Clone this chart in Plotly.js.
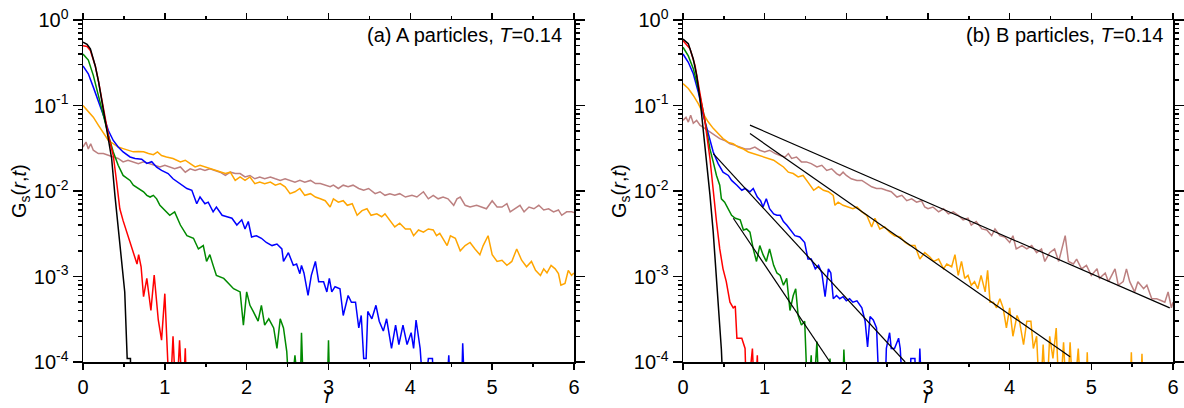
<!DOCTYPE html>
<html><head><meta charset="utf-8">
<script src="https://cdn.plot.ly/plotly-3.0.1.min.js"></script>
<style>html,body{margin:0;padding:0;background:#fff}#chart{width:1184px;height:408px}</style>
</head><body><div id="chart"></div>
<script>
// ---------- Panel (a): A particles ----------
const aBlack = [[0,0.55],[0.05,0.52],[0.09,0.46],[0.15,0.29],[0.19,0.19],[0.23,0.11],[0.27,0.064],[0.31,0.041],[0.35,0.024],[0.39,0.0089],[0.43,0.0036],[0.47,0.0015],[0.51,0.00066],[0.54,0.00011],[0.58,0.00011],[0.585,0.00003]];
const aRed = [[0,0.50],[0.05,0.49],[0.09,0.44],[0.15,0.29],[0.19,0.19],[0.23,0.115],[0.27,0.068],[0.31,0.045],[0.35,0.031],[0.37,0.026],[0.41,0.013],[0.45,0.0062],[0.49,0.0045],[0.53,0.0034],[0.57,0.0026],[0.60,0.0021],[0.64,0.0016],[0.66,0.0014],[0.68,0.0018],[0.71,0.0013],[0.74,0.00058],[0.78,0.00095],[0.83,0.0004],[0.87,0.00104],[0.92,0.00031],[0.96,0.00018],[1.00,0.00063],[1.03,0.0002],[1.06,0.00003],[1.10,0.0002],[1.14,0.00003],[1.18,0.00018],[1.22,0.00003],[1.25,0.000145],[1.27,0.00003]];
const aGreen = [[0,0.40],[0.065,0.34],[0.126,0.225],[0.187,0.131],[0.249,0.077],[0.31,0.045],[0.37,0.0286],[0.43,0.020],[0.49,0.0152],[0.575,0.0133],[0.615,0.0117],[0.676,0.0107],[0.74,0.0098],[0.78,0.0089],[0.82,0.0085],[0.86,0.0089],[0.90,0.0081],[0.94,0.0068],[1.02,0.0057],[1.06,0.0052],[1.12,0.0057],[1.19,0.0040],[1.27,0.0030],[1.35,0.0028],[1.41,0.0021],[1.47,0.0023],[1.51,0.0015],[1.55,0.0018],[1.59,0.00135],[1.63,0.00103],[1.72,0.00095],[1.76,0.00087],[1.84,0.00072],[1.92,0.00066],[1.96,0.00027],[2.00,0.00066],[2.04,0.00046],[2.08,0.00039],[2.14,0.0003],[2.18,0.00046],[2.22,0.00027],[2.27,0.00032],[2.33,0.00025],[2.37,0.000144],[2.41,0.00032],[2.45,0.00025],[2.49,0.000132],[2.53,0.00003],[2.59,0.00012],[2.65,0.00003],[2.67,0.00022],[2.70,0.00003],[2.98,0.00003],[3.00,0.00018],[3.02,0.00003]];
const aBlue = [[0,0.29],[0.065,0.235],[0.126,0.164],[0.187,0.115],[0.249,0.077],[0.31,0.051],[0.37,0.039],[0.43,0.0327],[0.49,0.0286],[0.575,0.025],[0.636,0.024],[0.717,0.0235],[0.78,0.021],[0.84,0.022],[0.90,0.019],[0.96,0.0174],[1.04,0.016],[1.10,0.0139],[1.19,0.0122],[1.27,0.0107],[1.33,0.0102],[1.39,0.0071],[1.43,0.0085],[1.49,0.0071],[1.53,0.0074],[1.59,0.0057],[1.63,0.0065],[1.70,0.0052],[1.76,0.0050],[1.82,0.0048],[1.88,0.0040],[1.94,0.0046],[1.98,0.0036],[2.02,0.0044],[2.06,0.0029],[2.12,0.0030],[2.18,0.0028],[2.24,0.0025],[2.31,0.0023],[2.37,0.0024],[2.43,0.0021],[2.45,0.0015],[2.51,0.0019],[2.57,0.00135],[2.61,0.0014],[2.65,0.00108],[2.67,0.00135],[2.70,0.0011],[2.75,0.0006],[2.79,0.00103],[2.84,0.0015],[2.88,0.00087],[2.94,0.00087],[2.98,0.00066],[3.01,0.00095],[3.04,0.00066],[3.08,0.00076],[3.14,0.00072],[3.18,0.00035],[3.24,0.0006],[3.28,0.0005],[3.33,0.0005],[3.37,0.00025],[3.40,0.00035],[3.43,0.00011],[3.46,0.00011],[3.48,0.00039],[3.53,0.00032],[3.58,0.00046],[3.62,0.0003],[3.67,0.00023],[3.71,0.00032],[3.77,0.000144],[3.82,0.00027],[3.86,0.00016],[3.91,0.00027],[3.96,0.00016],[4.01,0.00022],[4.04,0.000144],[4.07,0.00031],[4.12,0.000144],[4.17,0.00003],[4.22,0.00011],[4.27,0.00011],[4.30,0.00003],[4.43,0.00003],[4.47,0.00012],[4.50,0.00003],[4.62,0.00003],[4.64,0.000166],[4.67,0.00003]];
const aOrange = [[0,0.1],[0.065,0.084],[0.126,0.073],[0.187,0.059],[0.249,0.047],[0.31,0.039],[0.37,0.0357],[0.43,0.0327],[0.49,0.0313],[0.55,0.030],[0.615,0.0287],[0.676,0.029],[0.74,0.0287],[0.80,0.0274],[0.86,0.0266],[0.91,0.0287],[0.96,0.026],[1.02,0.025],[1.10,0.024],[1.19,0.0219],[1.25,0.0229],[1.31,0.0209],[1.37,0.0191],[1.43,0.020],[1.49,0.0191],[1.55,0.0182],[1.61,0.0174],[1.675,0.0166],[1.74,0.016],[1.80,0.0166],[1.86,0.0133],[1.92,0.0146],[1.98,0.0133],[2.04,0.0146],[2.10,0.0122],[2.16,0.0127],[2.22,0.0122],[2.29,0.0127],[2.35,0.0117],[2.41,0.0122],[2.47,0.0112],[2.53,0.0093],[2.59,0.0098],[2.65,0.0107],[2.71,0.0089],[2.78,0.0093],[2.84,0.0085],[2.90,0.0081],[2.96,0.0077],[3.02,0.0065],[3.06,0.0081],[3.12,0.0074],[3.18,0.0077],[3.23,0.0068],[3.29,0.0071],[3.35,0.0052],[3.41,0.0059],[3.47,0.0062],[3.52,0.0052],[3.59,0.0054],[3.65,0.0050],[3.69,0.0054],[3.75,0.0046],[3.81,0.0038],[3.87,0.0042],[3.94,0.0036],[4.00,0.0036],[4.04,0.0030],[4.10,0.0035],[4.16,0.0033],[4.22,0.0036],[4.28,0.0035],[4.32,0.0030],[4.36,0.0032],[4.45,0.0023],[4.49,0.0030],[4.55,0.0028],[4.61,0.0020],[4.67,0.0023],[4.73,0.0025],[4.79,0.0021],[4.85,0.0018],[4.89,0.0023],[4.95,0.0030],[5.00,0.0018],[5.06,0.0015],[5.12,0.00155],[5.18,0.00135],[5.24,0.0015],[5.30,0.0021],[5.36,0.00155],[5.42,0.0013],[5.48,0.0015],[5.53,0.00118],[5.59,0.00103],[5.63,0.00123],[5.67,0.0011],[5.72,0.00135],[5.77,0.00123],[5.81,0.00108],[5.84,0.00079],[5.89,0.00083],[5.93,0.00118],[5.97,0.00103],[6.0,0.0011]];
const aRosy = [[0,0.0327],[0.037,0.0374],[0.065,0.031],[0.094,0.0357],[0.126,0.030],[0.187,0.0274],[0.249,0.0274],[0.31,0.026],[0.37,0.025],[0.43,0.024],[0.49,0.0219],[0.55,0.0229],[0.615,0.0219],[0.676,0.0209],[0.74,0.0219],[0.80,0.0209],[0.86,0.020],[0.94,0.0191],[1.00,0.020],[1.06,0.0191],[1.12,0.0182],[1.19,0.0191],[1.25,0.0166],[1.31,0.0182],[1.37,0.0174],[1.43,0.0182],[1.49,0.0174],[1.55,0.0182],[1.61,0.0174],[1.675,0.0166],[1.74,0.0152],[1.80,0.0166],[1.86,0.016],[1.92,0.016],[1.98,0.0146],[2.04,0.0152],[2.10,0.0139],[2.16,0.0146],[2.22,0.0139],[2.29,0.0146],[2.35,0.0139],[2.41,0.0133],[2.47,0.0139],[2.53,0.0133],[2.59,0.0127],[2.65,0.0133],[2.71,0.0127],[2.78,0.0133],[2.84,0.0122],[2.90,0.0122],[2.96,0.0117],[3.02,0.0112],[3.06,0.0117],[3.12,0.0107],[3.18,0.0117],[3.24,0.0112],[3.30,0.0117],[3.37,0.0107],[3.43,0.0102],[3.49,0.0107],[3.57,0.0093],[3.63,0.0098],[3.69,0.0089],[3.75,0.0093],[3.81,0.0089],[3.87,0.0093],[3.94,0.0085],[4.02,0.0089],[4.08,0.0085],[4.16,0.0098],[4.22,0.0081],[4.28,0.0089],[4.34,0.0081],[4.40,0.0085],[4.46,0.0081],[4.53,0.0068],[4.57,0.0081],[4.61,0.0085],[4.67,0.0068],[4.73,0.0065],[4.81,0.0068],[4.87,0.0065],[4.93,0.0062],[5.00,0.0077],[5.06,0.0065],[5.12,0.0065],[5.18,0.0071],[5.22,0.0057],[5.28,0.0062],[5.34,0.0068],[5.39,0.0057],[5.45,0.0065],[5.51,0.0062],[5.57,0.0068],[5.63,0.006],[5.69,0.0062],[5.75,0.0057],[5.81,0.006],[5.85,0.0052],[5.91,0.0057],[5.97,0.0057],[6.0,0.0056]];

// ---------- Panel (b): B particles ----------
const bBlack = [[0,0.60],[0.065,0.53],[0.126,0.35],[0.167,0.225],[0.208,0.12],[0.249,0.053],[0.29,0.024],[0.33,0.009],[0.37,0.0033],[0.41,0.001],[0.45,0.0003],[0.47,0.00014],[0.50,0.00003]];
const bRed = [[0,0.575],[0.086,0.46],[0.147,0.295],[0.208,0.144],[0.27,0.064],[0.33,0.024],[0.37,0.0098],[0.41,0.0044],[0.45,0.0021],[0.49,0.00123],[0.53,0.00087],[0.575,0.0005],[0.615,0.00043],[0.64,0.00045],[0.66,0.00019],[0.72,0.00019],[0.76,0.000144],[0.78,0.00003],[0.85,0.000144],[0.88,0.00003],[0.91,0.00012],[0.93,0.00003]];
const bGreen = [[0,0.48],[0.065,0.38],[0.126,0.27],[0.187,0.158],[0.249,0.084],[0.29,0.049],[0.33,0.031],[0.37,0.0219],[0.41,0.0152],[0.45,0.0117],[0.47,0.0081],[0.51,0.0074],[0.555,0.0062],[0.595,0.0052],[0.64,0.0048],[0.70,0.0046],[0.74,0.0035],[0.78,0.0036],[0.82,0.0033],[0.86,0.0021],[0.90,0.0015],[0.94,0.0023],[0.98,0.0018],[1.02,0.0015],[1.06,0.0021],[1.11,0.00135],[1.15,0.0011],[1.19,0.00103],[1.23,0.00079],[1.27,0.00095],[1.31,0.0004],[1.35,0.0006],[1.38,0.00072],[1.41,0.00035],[1.45,0.00027],[1.49,0.0003],[1.53,0.00003],[1.57,0.00012],[1.59,0.00003],[1.64,0.000174],[1.67,0.00003],[1.78,0.00003],[1.80,0.00011],[1.83,0.00003],[1.95,0.00003],[1.97,0.00014],[2.00,0.00003]];
const bBlue = [[0,0.40],[0.065,0.32],[0.126,0.235],[0.187,0.144],[0.249,0.077],[0.31,0.045],[0.37,0.0286],[0.43,0.0209],[0.49,0.0166],[0.555,0.0152],[0.595,0.0133],[0.66,0.0117],[0.72,0.0102],[0.76,0.0107],[0.82,0.0098],[0.86,0.0107],[0.91,0.0085],[0.95,0.0077],[0.98,0.0065],[1.02,0.0081],[1.06,0.0062],[1.11,0.0054],[1.15,0.0052],[1.19,0.0052],[1.23,0.0044],[1.27,0.0040],[1.31,0.0036],[1.37,0.0030],[1.43,0.0029],[1.49,0.0025],[1.53,0.0016],[1.57,0.0016],[1.62,0.00123],[1.66,0.00135],[1.70,0.0011],[1.74,0.00058],[1.78,0.00123],[1.81,0.0011],[1.84,0.00055],[1.88,0.0006],[1.92,0.00055],[1.96,0.00058],[2.00,0.00052],[2.04,0.00055],[2.08,0.0005],[2.13,0.00052],[2.19,0.00043],[2.23,0.0003],[2.26,0.00015],[2.29,0.00034],[2.33,0.00031],[2.37,0.00025],[2.41,0.00003],[2.47,0.00003],[2.49,0.000144],[2.53,0.00022],[2.55,0.000144],[2.59,0.000144],[2.64,0.00019],[2.66,0.000144],[2.70,0.00003],[2.77,0.00003],[2.79,0.00011],[2.84,0.00011],[2.86,0.00003],[2.88,0.00003],[2.90,0.000144],[2.93,0.00003]];
const bOrange = [[0,0.18],[0.065,0.158],[0.126,0.131],[0.187,0.105],[0.249,0.080],[0.31,0.064],[0.37,0.054],[0.43,0.047],[0.49,0.041],[0.555,0.037],[0.615,0.0357],[0.676,0.0327],[0.74,0.031],[0.80,0.0286],[0.86,0.0274],[0.92,0.026],[0.98,0.025],[1.04,0.024],[1.11,0.0229],[1.17,0.0209],[1.23,0.0191],[1.29,0.0166],[1.35,0.016],[1.41,0.0146],[1.47,0.0152],[1.53,0.0127],[1.60,0.0102],[1.66,0.0112],[1.72,0.0102],[1.78,0.0098],[1.84,0.0089],[1.86,0.0068],[1.90,0.0074],[1.96,0.0068],[2.02,0.0065],[2.08,0.0062],[2.13,0.0065],[2.19,0.0057],[2.25,0.0052],[2.31,0.0038],[2.35,0.0048],[2.41,0.0036],[2.47,0.0038],[2.53,0.0033],[2.59,0.0030],[2.66,0.0029],[2.72,0.0025],[2.78,0.0023],[2.84,0.0023],[2.90,0.0016],[2.96,0.0019],[3.02,0.0017],[3.07,0.0015],[3.13,0.0016],[3.19,0.00123],[3.23,0.0014],[3.29,0.0013],[3.33,0.0018],[3.37,0.00103],[3.41,0.0015],[3.45,0.00095],[3.49,0.00103],[3.53,0.00079],[3.57,0.00087],[3.61,0.00072],[3.65,0.00103],[3.70,0.00066],[3.73,0.00118],[3.76,0.0005],[3.80,0.0005],[3.84,0.00043],[3.88,0.00055],[3.92,0.00043],[3.96,0.00025],[4.00,0.00043],[4.04,0.0002],[4.09,0.00035],[4.12,0.0003],[4.17,0.00016],[4.21,0.0003],[4.26,0.0003],[4.29,0.000144],[4.33,0.0002],[4.37,0.00003],[4.41,0.00016],[4.45,0.00003],[4.49,0.0002],[4.53,0.00011],[4.57,0.00025],[4.61,0.00003],[4.66,0.00017],[4.70,0.00003],[4.74,0.00017],[4.78,0.00003],[4.84,0.000144],[4.88,0.00003],[4.93,0.00003],[4.95,0.00013],[4.97,0.00003],[5.47,0.00003],[5.49,0.00013],[5.51,0.00003],[5.60,0.00003],[5.62,0.000125],[5.64,0.00003]];
const bRosy = [[0,0.067],[0.037,0.073],[0.065,0.064],[0.094,0.077],[0.126,0.062],[0.167,0.067],[0.208,0.059],[0.27,0.054],[0.33,0.049],[0.39,0.045],[0.45,0.041],[0.51,0.039],[0.575,0.0357],[0.64,0.0342],[0.70,0.0327],[0.76,0.031],[0.82,0.031],[0.88,0.0327],[0.94,0.030],[1.00,0.0286],[1.06,0.030],[1.13,0.0274],[1.19,0.026],[1.25,0.025],[1.29,0.0274],[1.33,0.024],[1.39,0.025],[1.45,0.0219],[1.51,0.0219],[1.57,0.0209],[1.64,0.0191],[1.70,0.020],[1.76,0.0174],[1.82,0.0182],[1.88,0.016],[1.92,0.0152],[1.96,0.0166],[2.00,0.0152],[2.06,0.0139],[2.13,0.0133],[2.19,0.0133],[2.25,0.0122],[2.31,0.0112],[2.37,0.0107],[2.43,0.0107],[2.49,0.0102],[2.55,0.0098],[2.62,0.0085],[2.68,0.0089],[2.74,0.0077],[2.80,0.0081],[2.86,0.0074],[2.92,0.0077],[2.96,0.0065],[3.00,0.0062],[3.06,0.0065],[3.13,0.0057],[3.19,0.0062],[3.25,0.0054],[3.31,0.0057],[3.37,0.0052],[3.43,0.0046],[3.49,0.0048],[3.53,0.0040],[3.59,0.0044],[3.66,0.0036],[3.72,0.0035],[3.78,0.0030],[3.82,0.0036],[3.88,0.0030],[3.94,0.0029],[4.00,0.0025],[4.04,0.0030],[4.08,0.0021],[4.15,0.0023],[4.21,0.0021],[4.27,0.0023],[4.33,0.0019],[4.39,0.0021],[4.43,0.0015],[4.49,0.0019],[4.55,0.0021],[4.60,0.0015],[4.68,0.0030],[4.72,0.0015],[4.78,0.0014],[4.82,0.0016],[4.88,0.00123],[4.94,0.00135],[5.00,0.00103],[5.07,0.00123],[5.10,0.00095],[5.17,0.0011],[5.21,0.00087],[5.25,0.00103],[5.29,0.00123],[5.33,0.00079],[5.39,0.00087],[5.43,0.00123],[5.47,0.00087],[5.53,0.00066],[5.57,0.00087],[5.64,0.00072],[5.68,0.00079],[5.74,0.00055],[5.80,0.00055],[5.86,0.00052],[5.90,0.0005],[5.94,0.00066],[5.98,0.00043],[6.0,0.0005]];
// straight-line fits in panel (b): [x0, y0, x1, y1]
const bFits = [[0.82,0.059,5.96,0.00043],[0.82,0.047,4.74,0.000115],[0.37,0.0273,2.72,0.0001],[0.616,0.0048,1.80,0.0001]];

const yTickVals = [1e-4,1e-3,1e-2,1e-1,1];
const yTickText = ['10<sup>-4</sup>','10<sup>-3</sup>','10<sup>-2</sup>','10<sup>-1</sup>','10<sup>0</sup>'];
const xTickVals = [0,1,2,3,4,5,6];
const xMinorVals = [0.5,1.5,2.5,3.5,4.5,5.5];
const panelLabels = ['(a) A particles, <i>T</i>=0.14','(b) B particles, <i>T</i>=0.14'];

const colors = {black:'#000000', red:'#ff0000', green:'#008a00', blue:'#0000ff', orange:'#ffa500', rosy:'#bc8080'};
const FONT = 'Liberation Sans, Arial, sans-serif';

const yMinorVals = [];
for (let d = -4; d < 0; d++) for (let k = 2; k <= 9; k++) yMinorVals.push(k * Math.pow(10, d));

function tr(pairs, color, xa, ya, w) {
  return {x: pairs.map(p => p[0]), y: pairs.map(p => p[1]), xaxis: xa, yaxis: ya,
    type: 'scatter', mode: 'lines', line: {color: color, width: w || 1.5}, hoverinfo: 'skip', showlegend: false};
}
const traces = [];
[[aRosy,'rosy'],[aOrange,'orange'],[aBlue,'blue'],[aGreen,'green'],[aRed,'red'],[aBlack,'black']].forEach(s => traces.push(tr(s[0], colors[s[1]], 'x', 'y')));
[[bRosy,'rosy'],[bOrange,'orange'],[bBlue,'blue'],[bGreen,'green'],[bRed,'red'],[bBlack,'black']].forEach(s => traces.push(tr(s[0], colors[s[1]], 'x2', 'y2')));
bFits.forEach(f => traces.push(tr([[f[0], f[1]], [f[2], f[3]]], '#000000', 'x2', 'y2', 1.2)));

function xAxis(domain, anchor) {
  return {domain: domain, anchor: anchor, range: [0, 6], tickvals: xTickVals, ticktext: xTickVals.map(String),
    ticks: 'outside', ticklen: 6, tickwidth: 1.5, tickcolor: '#000', showline: true, linewidth: 1.5, linecolor: '#000',
    mirror: 'ticks', showgrid: false, zeroline: false, tickfont: {family: FONT, size: 20, color: '#000'},
    minor: {tickvals: xMinorVals, ticks: 'outside', ticklen: 3, tickwidth: 1.5, tickcolor: '#000', showgrid: false}};
}
function yAxis(anchor) {
  return {anchor: anchor, type: 'log', range: [-4, 0], tickvals: yTickVals, ticktext: yTickText,
    ticks: 'outside', ticklen: 9, tickwidth: 1.5, tickcolor: '#000', showline: true, linewidth: 1.5, linecolor: '#000',
    mirror: 'ticks', showgrid: false, zeroline: false, tickfont: {family: FONT, size: 20, color: '#000'},
    minor: {tickvals: yMinorVals, ticks: 'outside', ticklen: 4, tickwidth: 1.5, tickcolor: '#000', showgrid: false}};
}

const W = 1090, H = 342, L = 83, T = 20;
const px = v => (v - L) / W;
const py = v => (T + H - v) / H;
const annFont = {family: FONT, size: 20, color: '#000'};
const layout = {
  width: 1184, height: 408, margin: {l: L, r: 11, t: T, b: 46}, paper_bgcolor: '#fff', plot_bgcolor: '#fff',
  showlegend: false,
  xaxis: xAxis([0, 491 / W], 'y'), yaxis: yAxis('x'),
  xaxis2: xAxis([600 / W, 1], 'y2'), yaxis2: yAxis('x2'),
  annotations: [
    {text: panelLabels[0], xref: 'paper', yref: 'paper', x: px(564), y: py(35), xanchor: 'right', yanchor: 'middle', showarrow: false, font: annFont},
    {text: panelLabels[1], xref: 'paper', yref: 'paper', x: px(1165), y: py(35), xanchor: 'right', yanchor: 'middle', showarrow: false, font: annFont},
    {text: 'G<sub>s</sub>(<i>r</i>,<i>t</i>)', textangle: -90, xref: 'paper', yref: 'paper', x: px(20), y: 0.5, xanchor: 'center', yanchor: 'middle', showarrow: false, font: annFont},
    {text: 'G<sub>s</sub>(<i>r</i>,<i>t</i>)', textangle: -90, xref: 'paper', yref: 'paper', x: px(620), y: 0.5, xanchor: 'center', yanchor: 'middle', showarrow: false, font: annFont},
    {text: '<i>r</i>', xref: 'paper', yref: 'paper', x: px(328.5), y: py(408), xanchor: 'center', yanchor: 'bottom', showarrow: false, font: annFont, borderpad: 0},
    {text: '<i>r</i>', xref: 'paper', yref: 'paper', x: px(928), y: py(408), xanchor: 'center', yanchor: 'bottom', showarrow: false, font: annFont, borderpad: 0}
  ]
};
Plotly.newPlot('chart', traces, layout, {displayModeBar: false, staticPlot: true});
</script>
</body></html>
